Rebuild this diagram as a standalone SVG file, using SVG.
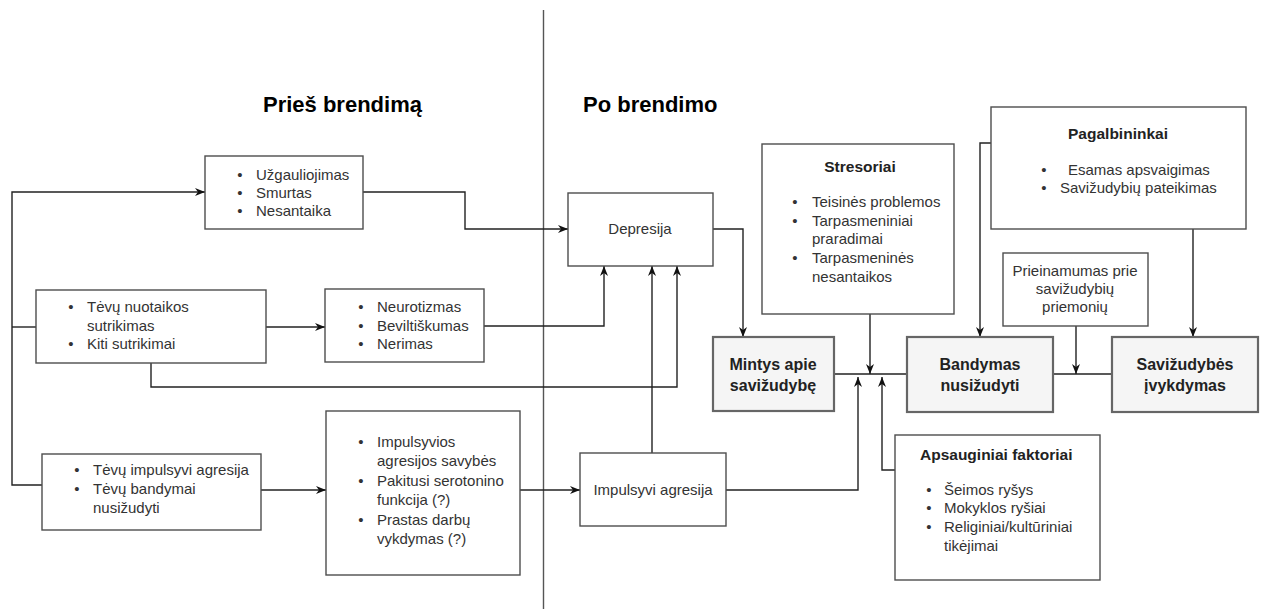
<svg xmlns="http://www.w3.org/2000/svg" width="1263" height="609" viewBox="0 0 1263 609">
<defs>
<style>
.box{fill:#fff;stroke:#4d4d4d;stroke-width:1.4}
.main{fill:#f5f5f5;stroke:#666;stroke-width:2.2}
.t{font-family:"Liberation Sans",Arial,sans-serif;font-size:15px;fill:#333}
.c{text-anchor:middle}
.b{font-family:"Liberation Sans",Arial,sans-serif;font-weight:bold;fill:#222}
.h{font-family:"Liberation Sans",Arial,sans-serif;font-weight:bold;font-size:22px;fill:#000}
.ln{fill:none;stroke:#222;stroke-width:1.4}
.ar{fill:none;stroke:#222;stroke-width:1.4;marker-end:url(#arr)}
</style>
<marker id="arr" viewBox="0 0 10 10" refX="10" refY="5" markerWidth="10" markerHeight="10" markerUnits="userSpaceOnUse" orient="auto">
<path d="M0,1 L10,5 L0,9 L3,5 z" fill="#111"/>
</marker>
</defs>
<rect width="1263" height="609" fill="#fff"/>
<line x1="543.5" y1="10" x2="543.5" y2="609" stroke="#555" stroke-width="1.4"/>
<text class="h" x="263" y="112">Prieš brendimą</text>
<text class="h" x="583" y="112">Po brendimo</text>

<g id="connectors">
<path class="ar" d="M42,485 H12 V192 H205"/>
<path class="ln" d="M36,327 H12"/>
<path class="ar" d="M363,192 H465 V229 H568"/>
<path class="ar" d="M266,327 H325"/>
<path class="ar" d="M484,326 H604 V266"/>
<path class="ar" d="M151,363 V387 H677 V266"/>
<path class="ar" d="M261,490 H326"/>
<path class="ar" d="M520,490 H580"/>
<path class="ar" d="M652,453 V266"/>
<path class="ar" d="M713,229 H743 V337"/>
<path class="ln" d="M834,374 H907"/>
<path class="ar" d="M870,314 V374"/>
<path class="ar" d="M726,490 H858 V377"/>
<path class="ar" d="M895,470 H882 V377"/>
<path class="ar" d="M991,143 H980 V337"/>
<path class="ar" d="M1193,229 V337"/>
<path class="ln" d="M1053,374 H1112"/>
<path class="ar" d="M1076,326 V374"/>
</g>

<g id="uzgauliojimas">
<rect class="box" x="205" y="156" width="158" height="73"/>
<text class="t" x="240" y="180" text-anchor="middle">•</text><text class="t" x="256" y="180">Užgauliojimas</text>
<text class="t" x="240" y="198" text-anchor="middle">•</text><text class="t" x="256" y="198">Smurtas</text>
<text class="t" x="240" y="216" text-anchor="middle">•</text><text class="t" x="256" y="216">Nesantaika</text>
</g>

<g id="tevu-nuotaikos">
<rect class="box" x="36" y="290" width="230" height="73"/>
<text class="t" x="71" y="312" text-anchor="middle">•</text><text class="t" x="87" y="312">Tėvų nuotaikos</text>
<text class="t" x="87" y="331">sutrikimas</text>
<text class="t" x="71" y="349" text-anchor="middle">•</text><text class="t" x="87" y="349">Kiti sutrikimai</text>
</g>

<g id="neurotizmas">
<rect class="box" x="325" y="289" width="159" height="73"/>
<text class="t" x="361" y="312" text-anchor="middle">•</text><text class="t" x="377" y="312">Neurotizmas</text>
<text class="t" x="361" y="331" text-anchor="middle">•</text><text class="t" x="377" y="331">Beviltiškumas</text>
<text class="t" x="361" y="349" text-anchor="middle">•</text><text class="t" x="377" y="349">Nerimas</text>
</g>

<g id="tevu-impulsyvi">
<rect class="box" x="42" y="454" width="219" height="76"/>
<text class="t" x="77" y="475" text-anchor="middle">•</text><text class="t" x="93" y="475">Tėvų impulsyvi agresija</text>
<text class="t" x="77" y="494" text-anchor="middle">•</text><text class="t" x="93" y="494">Tėvų bandymai</text>
<text class="t" x="93" y="513">nusižudyti</text>
</g>

<g id="impulsyvios-savybes">
<rect class="box" x="326" y="411" width="194" height="164"/>
<text class="t" x="361" y="447" text-anchor="middle">•</text><text class="t" x="377" y="447">Impulsyvios</text>
<text class="t" x="377" y="466">agresijos savybės</text>
<text class="t" x="361" y="486" text-anchor="middle">•</text><text class="t" x="377" y="486">Pakitusi serotonino</text>
<text class="t" x="377" y="505">funkcija (?)</text>
<text class="t" x="361" y="525" text-anchor="middle">•</text><text class="t" x="377" y="525">Prastas darbų</text>
<text class="t" x="377" y="544">vykdymas (?)</text>
</g>

<g id="depresija">
<rect class="box" x="568" y="193" width="145" height="73"/>
<text class="t c" x="640" y="234">Depresija</text>
</g>

<g id="impulsyvi-agresija">
<rect class="box" x="580" y="453" width="146" height="73"/>
<text class="t c" x="653" y="495">Impulsyvi agresija</text>
</g>

<g id="mintys">
<rect class="main" x="713" y="337" width="121" height="74"/>
<text class="b c" font-size="16" x="773" y="370">Mintys apie</text>
<text class="b c" font-size="16" x="773" y="391">savižudybę</text>
</g>

<g id="bandymas">
<rect class="main" x="907" y="337" width="146" height="75"/>
<text class="b c" font-size="16" x="980" y="370">Bandymas</text>
<text class="b c" font-size="16" x="980" y="391">nusižudyti</text>
</g>

<g id="savizudybes">
<rect class="main" x="1112" y="337" width="146" height="75"/>
<text class="b c" font-size="16" x="1185" y="370">Savižudybės</text>
<text class="b c" font-size="16" x="1185" y="391">įvykdymas</text>
</g>

<g id="stresoriai">
<rect class="box" x="762" y="144" width="192" height="170"/>
<text class="b c" font-size="15.5" x="860" y="172">Stresoriai</text>
<text class="t" x="795" y="207" text-anchor="middle">•</text><text class="t" x="812" y="207">Teisinės problemos</text>
<text class="t" x="795" y="226" text-anchor="middle">•</text><text class="t" x="812" y="226">Tarpasmeniniai</text>
<text class="t" x="812" y="244">praradimai</text>
<text class="t" x="795" y="263" text-anchor="middle">•</text><text class="t" x="812" y="263">Tarpasmeninės</text>
<text class="t" x="812" y="282">nesantaikos</text>
</g>

<g id="pagalbininkai">
<rect class="box" x="991" y="107" width="255" height="122"/>
<text class="b c" font-size="15.5" x="1118" y="139">Pagalbininkai</text>
<text class="t" x="1044" y="175" text-anchor="middle">•</text><text class="t" x="1068" y="175">Esamas apsvaigimas</text>
<text class="t" x="1044" y="193" text-anchor="middle">•</text><text class="t" x="1060" y="193">Savižudybių pateikimas</text>
</g>

<g id="prieinamumas">
<rect class="box" x="1003" y="253" width="145" height="73"/>
<text class="t c" x="1075" y="276">Prieinamumas prie</text>
<text class="t c" x="1075" y="294">savižudybių</text>
<text class="t c" x="1075" y="312">priemonių</text>
</g>

<g id="apsauginiai">
<rect class="box" x="895" y="435" width="205" height="145"/>
<text class="b" font-size="15.5" x="920" y="460">Apsauginiai faktoriai</text>
<text class="t" x="929" y="495" text-anchor="middle">•</text><text class="t" x="944" y="495">Šeimos ryšys</text>
<text class="t" x="929" y="513" text-anchor="middle">•</text><text class="t" x="944" y="513">Mokyklos ryšiai</text>
<text class="t" x="929" y="532" text-anchor="middle">•</text><text class="t" x="944" y="532">Religiniai/kultūriniai</text>
<text class="t" x="944" y="551">tikėjimai</text>
</g>
</svg>
